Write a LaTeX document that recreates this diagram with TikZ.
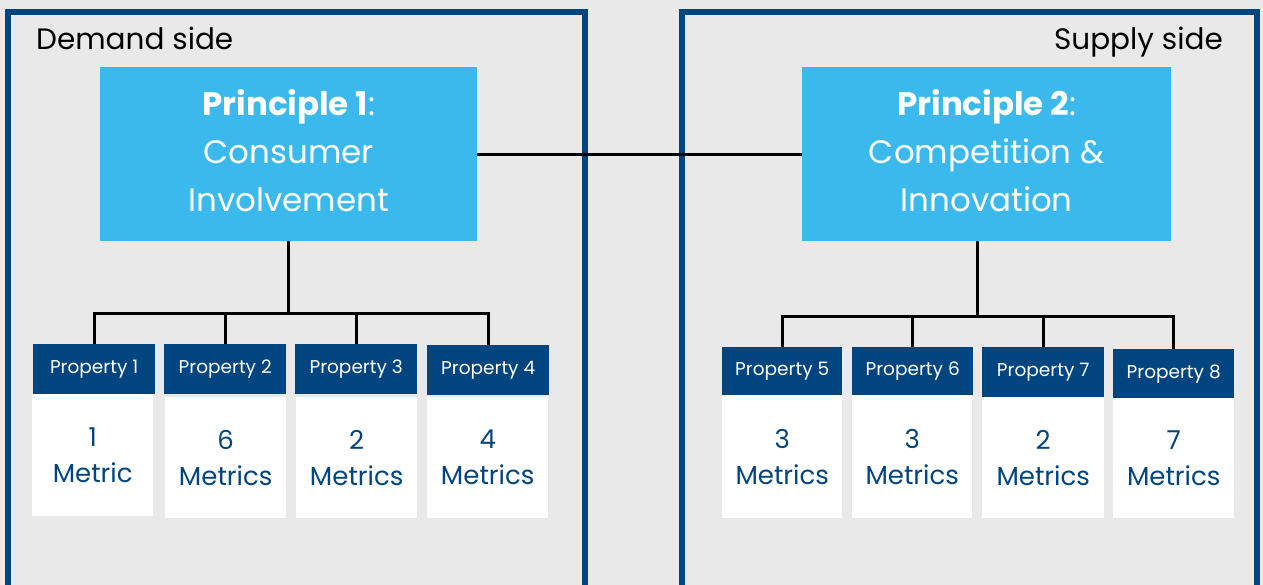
\documentclass[tikz,border=0pt]{standalone}
\usepackage{fontspec}
\setmainfont{Poppins}
\definecolor{bg}{HTML}{E9E9E9}
\definecolor{navy}{HTML}{00457F}
\definecolor{sky}{HTML}{3BB9EC}
\begin{document}
\begin{tikzpicture}[x=1pt,y=-1pt,
  border/.style={draw=navy,line width=6pt},
  conn/.style={draw=black,line width=3pt},
  princ/.style={fill=sky,anchor=north west,inner sep=0pt},
  princtext/.style={text=white,inner sep=0pt,align=center,
    font=\fontsize{32.5}{48}\selectfont},
  prophead/.style={fill=navy,text=white,anchor=north west,inner sep=0pt,
    minimum width=121pt,minimum height=50pt,font=\fontsize{18.5}{20}\selectfont},
  propbody/.style={fill=white,text=navy,anchor=north west,inner sep=0pt,align=center,
    minimum width=121pt,minimum height=122pt,font=\fontsize{26}{36}\selectfont},
  side/.style={text=black,inner sep=0pt,font=\fontsize{29.5}{34}\selectfont}]
\useasboundingbox (0,0) rectangle (1263,585);
\clip (0,0) rectangle (1263,585);
\fill[bg] (0,0) rectangle (1263,585);
% panels
\draw[border] (7.5,590) |- (585,12) -- (585,590);
\draw[border] (682,590) |- (1257,12) -- (1257,590);
\node[side,anchor=base west] (ds) at (36,50) {Demand side};
\node[side,anchor=base east] (ss) at (1223,50) {Supply side};
% principles
\node[princ,minimum width=377pt,minimum height=174pt] (p1) at (100,67) {};
\node[princ,minimum width=369pt,minimum height=174pt] (p2) at (802,67) {};
\node[princtext] (t1) at ([yshift=4pt]p1.center)
  {\textbf{Principle 1}:\\Consumer\\Involvement};
\node[princtext] (t2) at ([yshift=4pt]p2.center)
  {\textbf{Principle 2}:\\Competition \&\\Innovation};
\draw[conn] (p1.east) -- (p2.east -| p2.west);
% property headers (demand)
\node[prophead,minimum width=122pt] (h1) at (33,344) {Property 1};
\node[prophead,minimum width=122pt] (h2) at (164,344) {Property 2};
\node[prophead,minimum width=122pt] (h3) at (295,344) {Property 3};
\node[prophead,minimum width=122pt] (h4) at (427,345) {Property 4};
\node[propbody] (b1) at (32,394) {1\\Metric};
\node[propbody,minimum height=121pt] (b2) at (165,397) {6\\Metrics};
\node[propbody,minimum height=121pt] (b3) at (296,397) {2\\Metrics};
\node[propbody,minimum height=121pt] (b4) at (427,397) {4\\Metrics};
% property headers (supply)
\node[prophead,minimum width=120pt,minimum height=48pt] (h5) at (722,347) {Property 5};
\node[prophead,minimum width=121pt,minimum height=48pt] (h6) at (852,347) {Property 6};
\node[prophead,minimum width=122pt,minimum height=50pt] (h7) at (982,347) {Property 7};
\node[prophead,minimum width=121pt,minimum height=49pt] (h8) at (1113,349) {Property 8};
\node[propbody,minimum width=120pt,minimum height=123pt] (b5) at (722,395) {3\\Metrics};
\node[propbody,minimum width=120pt,minimum height=123pt] (b6) at (852,395) {3\\Metrics};
\node[propbody,minimum width=122pt,minimum height=121pt] (b7) at (982,397) {2\\Metrics};
\node[propbody,minimum width=121pt,minimum height=120pt] (b8) at (1113,398) {7\\Metrics};
% tree connectors
\coordinate (j1) at (288,313);
\coordinate (j2) at (977,316);
\draw[conn] (p1.south -| j1) -- (j1);
\draw[conn] (h1.north) |- (j1) -| (h4.north);
\draw[conn] (h2.north) -- (h2.north |- j1);
\draw[conn] (h3.north) -- (h3.north |- j1);
\draw[conn] (p2.south -| j2) -- (j2);
\draw[conn] (h5.north) |- (j2) -| (h8.north);
\draw[conn] (h6.north) -- (h6.north |- j2);
\draw[conn] (h7.north) -- (h7.north |- j2);
\end{tikzpicture}
\end{document}
